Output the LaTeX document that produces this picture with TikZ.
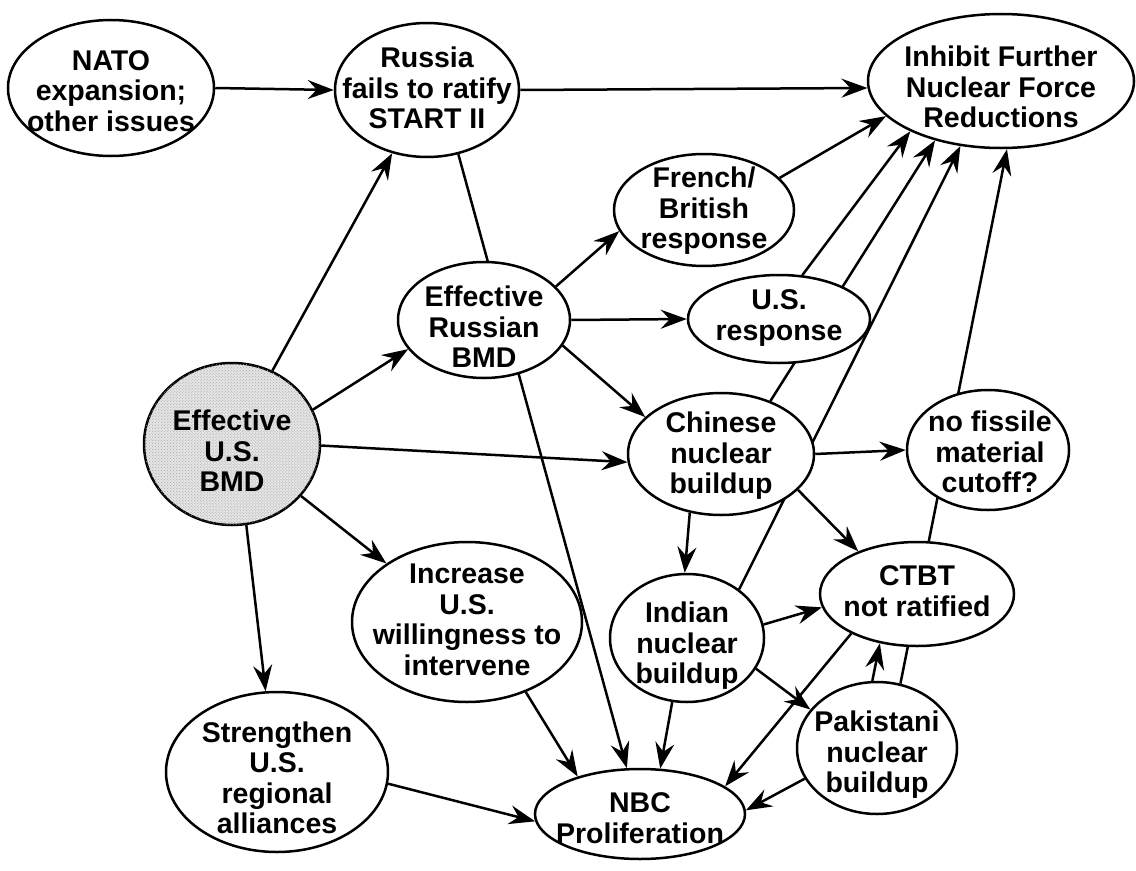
\documentclass[tikz,border=0pt]{standalone}
\usepackage{fontspec}
\setmainfont{Liberation Sans}
\usetikzlibrary{shapes.geometric,arrows.meta,backgrounds,patterns}
\begin{document}
\begin{tikzpicture}[x=1bp,y=-1bp,
  bub/.style={ellipse,draw=black,line width=2.5bp,fill=white,inner sep=0pt},
  shaded/.style={bub,fill=black!10,postaction={pattern=crosshatch dots,pattern color=black!35}},
  txt/.style={align=center,inner sep=0pt,font=\fontsize{28.5bp}{30.5bp}\selectfont\bfseries},
  arr/.style={line width=2.5bp,-{Stealth[length=26bp,width=19bp,inset=9bp]}},
  lin/.style={line width=2.5bp}]
\useasboundingbox (0,0) rectangle (1136,871);
% nodes
\node[bub,minimum width=206bp,minimum height=136bp] (nato) at (111,88) {};
\node[txt] (nato-t) at (111,91) {NATO\\expansion;\\other issues};
\node[bub,minimum width=184bp,minimum height=134bp] (russia) at (427,90) {};
\node[txt] (russia-t) at (427,88) {Russia\\fails to ratify\\START II};
\node[bub,minimum width=266bp,minimum height=134bp] (inh) at (1001,81) {};
\node[txt] (inh-t) at (1001,87) {Inhibit Further\\Nuclear Force\\Reductions};
\node[bub,minimum width=180bp,minimum height=112bp] (french) at (704,210) {};
\node[txt] (french-t) at (704,211) {French/\\British\\response};
\node[bub,minimum width=182bp,minimum height=88bp] (usresp) at (779,319) {};
\node[txt] (usresp-t) at (779,318) {U.S.\\response};
\node[bub,minimum width=172bp,minimum height=116bp] (rbmd) at (484,320) {};
\node[txt] (rbmd-t) at (484,327) {Effective\\Russian\\BMD};
\node[shaded,minimum width=176bp,minimum height=162bp] (usbmd) at (232,444) {};
\node[txt] (usbmd-t) at (232,451) {Effective\\U.S.\\BMD};
\node[bub,minimum width=186bp,minimum height=122bp] (chin) at (721,454) {};
\node[txt] (chin-t) at (721,456) {Chinese\\nuclear\\buildup};
\node[bub,minimum width=162bp,minimum height=120bp] (nofis) at (988,450) {};
\node[txt] (nofis-t) at (990,452) {no fissile\\material\\cutoff?};
\node[bub,minimum width=194bp,minimum height=104bp] (ctbt) at (917,594) {};
\node[txt] (ctbt-t) at (917,591) {CTBT\\not ratified};
\node[bub,minimum width=154bp,minimum height=128bp] (indian) at (687,638) {};
\node[txt] (indian-t) at (687,646) {Indian\\nuclear\\buildup};
\node[bub,minimum width=160bp,minimum height=132bp] (pak) at (877,748) {};
\node[txt] (pak-t) at (877,755) {Pakistani\\nuclear\\buildup};
\node[bub,minimum width=210bp,minimum height=90bp] (nbc) at (640,814) {};
\node[txt] (nbc-t) at (640,818) {NBC\\Proliferation};
\node[bub,minimum width=230bp,minimum height=160bp] (inc) at (467,622) {};
\node[txt] (inc-t) at (467,620) {Increase\\U.S.\\willingness to\\intervene};
\node[bub,minimum width=222bp,minimum height=160bp] (strength) at (277,772) {};
\node[txt] (strength-t) at (277,778) {Strengthen\\U.S.\\regional\\alliances};
% connectors
\begin{scope}[on background layer]
\fill[white] (0,0) rectangle (1136,871);
\draw[arr] (nato.east) -- (russia.west);
\draw[arr] (russia.east) -- (inh.183);
\draw[arr] (usbmd) -- (russia);
\draw[arr] (russia.-64) -- (nbc.106);
\draw[arr] (usbmd.23) -- (rbmd.201);
\draw[arr] (usbmd.-1) -- (chin.185);
\draw[arr] (usbmd.-37) -- (inc.144);
\draw[arr] (usbmd.-80) -- (strength.98);
\draw[arr] (rbmd.25) -- (french.194);
\draw[arr] (rbmd.east) -- (usresp.west);
\draw[arr] (rbmd.-18) -- (chin.154);
\draw[arr] (french.23) -- (inh.197);
\draw[arr] (usresp.62) -- (inh.209);
\draw[arr] (chin.47) -- (inh.222);
\draw[arr] (indian.43) -- (inh.238);
\draw[arr] (pak.70) -- (inh.275);
\draw[arr] (chin.east) -- (nofis.west);
\draw[arr] (chin.-25) -- (ctbt.144);
\draw[arr] (chin.242) -- (indian.92);
\draw[arr] (indian.10) -- (ctbt.188);
\draw[arr] (indian.-24) -- (pak.150);
\draw[arr] (indian.257) -- (nbc.66);
\draw[arr] (ctbt.211) -- (nbc.18);
\draw[arr] (pak.94) -- (ctbt.233);
\draw[arr] (pak.203) -- (nbc.2);
\draw[arr] (inc.-50) -- (nbc.149);
\draw[arr] (strength.-6) -- (nbc.184);
\end{scope}
\end{tikzpicture}
\end{document}
